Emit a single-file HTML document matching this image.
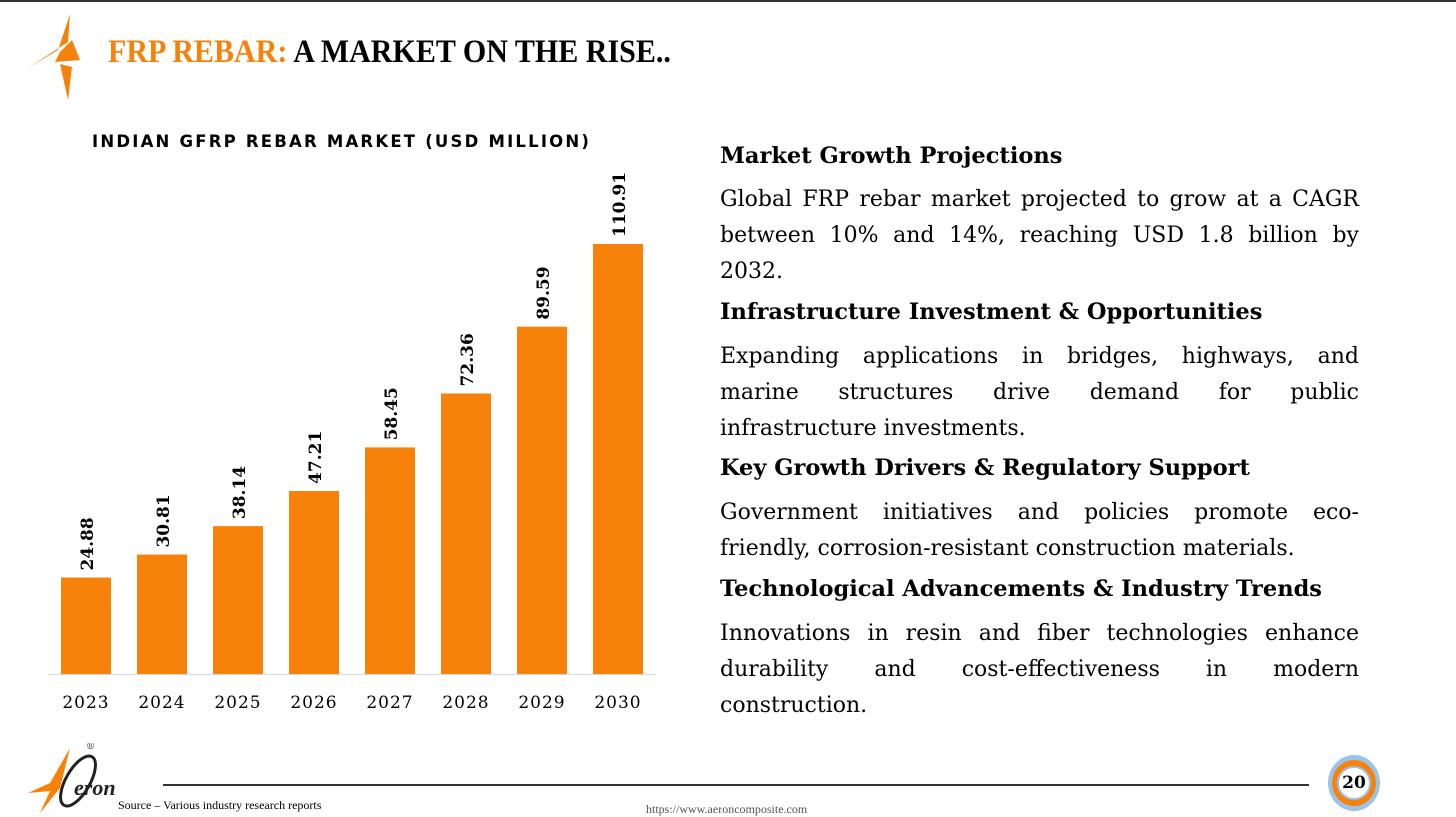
<!DOCTYPE html>
<html><head><meta charset="utf-8"><style>
*{margin:0;padding:0;box-sizing:border-box}
body{width:1456px;height:815px;background:#fff;position:relative;overflow:hidden;font-family:"DejaVu Serif",serif}
.topbar{position:absolute;left:0;top:0;width:1456px;height:2px;background:#333}
.title{position:absolute;left:108px;top:34px;font-family:"Liberation Serif",serif;font-size:33px;font-weight:bold;transform:scaleX(0.91);transform-origin:left}
.title .o{color:#f7820a}
.ctitle{position:absolute;left:92px;top:132px;font-family:"DejaVu Sans",sans-serif;font-weight:bold;font-size:16.5px;letter-spacing:2.2px}
.h{font-weight:bold;font-size:22.5px;position:absolute;left:720px;white-space:nowrap}
.p{position:absolute;left:720px;width:639px;font-size:22px;line-height:36px;text-align:justify}
.foot{position:absolute;font-size:12px;font-family:"Liberation Serif",serif}
</style></head><body>
<div class="topbar"></div>
<svg style="position:absolute;left:20px;top:12px" width="80" height="90">
<polygon points="50,2 48,30 8,56 38,38" fill="#f7820a"/>
<polygon points="52,28 40,40 35,50 60,48" fill="#f7820a"/>
<polygon points="40,52 48,88 52,55" fill="#f7820a"/>
</svg>
<div class="title"><span class="o">FRP REBAR:</span> A MARKET ON THE RISE..</div>
<div class="ctitle">INDIAN GFRP REBAR MARKET (USD MILLION)</div>
<svg id="chart" style="position:absolute;left:0;top:0" width="700" height="730"></svg>
<script>
const categories=["2023","2024","2025","2026","2027","2028","2029","2030"];
const values=[24.88,30.81,38.14,47.21,58.45,72.36,89.59,110.91];
const labels=["24.88","30.81","38.14","47.21","58.45","72.36","89.59","110.91"];
const svg=document.getElementById('chart');const NS='http://www.w3.org/2000/svg';
const base=674,scale=430/110.91;
function x(i){return 86+i*76;}function y(v){return base-v*scale;}
const ax=document.createElementNS(NS,'line');
ax.setAttribute('x1',48);ax.setAttribute('x2',656);ax.setAttribute('y1',base+0.5);ax.setAttribute('y2',base+0.5);ax.setAttribute('stroke','#d9d9d9');


svg.appendChild(ax);
values.forEach((v,i)=>{
const r=document.createElementNS(NS,'rect');
r.setAttribute('x',x(i)-25);r.setAttribute('width',50);r.setAttribute('y',y(v));r.setAttribute('height',base-y(v));r.setAttribute('fill','#f7820a');


svg.appendChild(r);
const t=document.createElementNS(NS,'text');
t.setAttribute('transform','translate('+(x(i)+7)+','+(y(v)-7)+') rotate(-90)');
t.setAttribute('font-family','DejaVu Serif, serif');t.setAttribute('font-weight','bold');t.setAttribute('font-size','17');
t.textContent=labels[i];


svg.appendChild(t);
const c=document.createElementNS(NS,'text');
c.setAttribute('x',x(i));c.setAttribute('y',708);c.setAttribute('text-anchor','middle');
c.setAttribute('font-family','DejaVu Serif, serif');c.setAttribute('font-size','17');c.setAttribute('letter-spacing','1');
c.textContent=categories[i];


svg.appendChild(c);
});
</script>
<div class="h" style="top:143px">Market Growth Projections</div>
<div class="p" style="top:182px">Global FRP rebar market projected to grow at a CAGR between 10% and 14%, reaching USD 1.8 billion by 2032.</div>
<div class="h" style="top:299px">Infrastructure Investment &amp; Opportunities</div>
<div class="p" style="top:339px">Expanding applications in bridges, highways, and marine structures drive demand for public infrastructure investments.</div>
<div class="h" style="top:455px">Key Growth Drivers &amp; Regulatory Support</div>
<div class="p" style="top:495px">Government initiatives and policies promote eco-friendly, corrosion-resistant construction materials.</div>
<div class="h" style="top:576px">Technological Advancements &amp; Industry Trends</div>
<div class="p" style="top:616px"><div style="text-align:justify;text-align-last:justify">Innovations in resin and fiber technologies enhance durability and cost-effectiveness in modern</div><div>construction.</div></div>
<svg style="position:absolute;left:20px;top:743px" width="130" height="72">
<polygon points="50,5 30,40 8,50 30,48 20,70 40,45" fill="#f7820a"/>
<ellipse cx="58" cy="38" rx="12" ry="28" fill="none" stroke="#222" stroke-width="3" transform="rotate(30 58 38)"/>
<text x="66" y="6" font-size="9" fill="#333">®</text>
<text x="54" y="52" font-family="Liberation Serif" font-style="italic" font-weight="bold" font-size="22" fill="#222">eron</text>
</svg>
<div style="position:absolute;left:163px;top:784px;width:1146px;height:2px;background:#333"></div>
<div class="foot" style="left:118px;top:798px">Source – Various industry research reports</div>
<div class="foot" style="left:646px;top:802px;color:#555">https://www.aeroncomposite.com</div>
<div style="position:absolute;left:1328px;top:755px;width:52px;height:56px;border-radius:50%;background:#9bc3ea">
<div style="position:absolute;left:4px;top:5px;width:44px;height:46px;border-radius:50%;background:#f7820a"></div>
<div style="position:absolute;left:9px;top:11px;width:34px;height:34px;border-radius:50%;background:#fff;border:2px solid #9bc3ea;text-align:center;line-height:30px;font-weight:bold;font-size:17px">20</div>
</div>
</body></html>
